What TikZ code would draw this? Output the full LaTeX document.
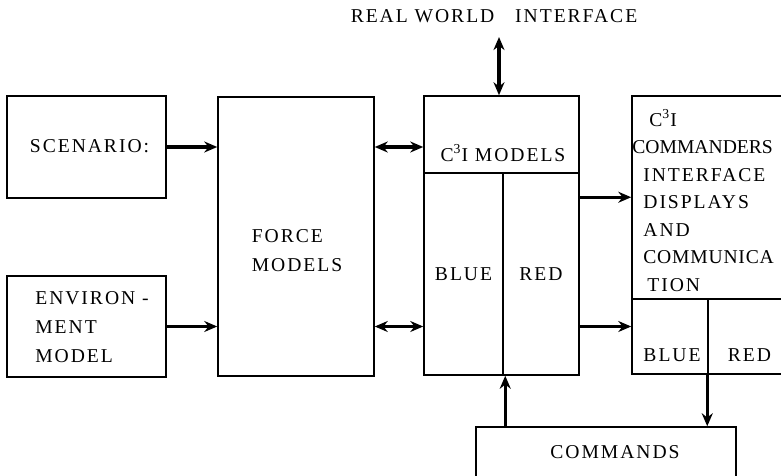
\documentclass[tikz,border=0pt]{standalone}
\usepackage{fontspec}
\setmainfont{Liberation Serif}[LetterSpace=10]
\newfontfamily\tightfont{Liberation Serif}
\usetikzlibrary{arrows.meta,positioning,calc}

\begin{document}
\begin{tikzpicture}[x=0.5pt,y=-0.5pt,
  box/.style={draw,line width=0.75pt,inner sep=0pt,align=left,
              font=\fontsize{9.8}{14.5}\selectfont},
  txt/.style={inner sep=0pt,align=left,font=\fontsize{9.8}{14.5}\selectfont},
  arr/.style={-{Stealth[length=6.5pt,width=5.5pt]},line width=1.6pt},
  darr/.style={{Stealth[length=6.5pt,width=5.5pt]}-{Stealth[length=6.5pt,width=5.5pt]},line width=1.6pt}]
  \useasboundingbox (0,0) rectangle (781,476);
  \clip (0,0) rectangle (781,476);
  % left column
  \node[box,minimum width=79.5pt,minimum height=51pt] (scen) at (86.5,147) {};
  \node[txt] (scentxt) at (89.5,146) {SCENARIO:};
  \node[box,minimum width=79.5pt,minimum height=50.5pt] (env) at (86.5,326.5) {};
  \node[txt] (envtxt) at (92,327.5) {ENVIRON -\\MENT\\MODEL};
  \node[box,minimum width=78pt,minimum height=139.5pt] (force) at (296,236.5) {};
  \node[txt] (forcetxt) at (297,251) {FORCE\\MODELS};
  % C3I models, split blue / red
  \node[box,minimum width=77.5pt,minimum height=38.5pt] (c3itop) at (501.5,134.5) {};
  \node[txt] (c3itxt) at (503,153) {C\textsuperscript{3}I MODELS};
  \node[box,minimum width=39.5pt,minimum height=101pt] (c3iblue) at (463.5,274) {BLUE};
  \node[box,minimum width=38pt,minimum height=101pt] (c3ired) at (541,274) {RED};
  \node[txt] (rwi) at (494,16) {REAL WORLD\hspace{7pt} INTERFACE};
  % commanders interface, runs off the right edge
  \node[box,minimum width=84pt,minimum height=101.5pt] (cmdr) at (716,197.5) {};
  \node[txt,font=\fontsize{9.8}{13.75}\selectfont,anchor=west] (cmdrtxt) at (643,200.5)
       {\hspace*{3pt}C\textsuperscript{3}I\\\hspace*{-5.5pt}{\tightfont COMMANDERS}\\INTERFACE\\
        DISPLAYS\\AND\\{\addfontfeatures{LetterSpace=4}COMMUNICA}\\\hspace*{2pt}TION};
  \node[box,minimum width=38pt,minimum height=37.5pt] (cblue) at (670,336.5) {};
  \node[box,minimum width=46pt,minimum height=37.5pt] (cred) at (754,336.5) {};
  \node[txt] (cbluetxt) at (672,355) {BLUE};
  \node[txt] (credtxt) at (749.5,355) {RED};
  \node[box,minimum width=130pt,minimum height=36pt] (cmds) at (606,463) {};
  \node[txt] (cmdstxt) at (615,452) {COMMANDS};
  % connectors
  \draw[arr] (scen) -- (force.west |- scen);
  \draw[arr] (env) -- (force.west |- env);
  \draw[darr] (force.east |- scen) -- (c3itop.west |- scen);
  \draw[darr] (force.east |- env) -- (c3iblue.west |- env);
  \draw[darr,shorten <=7pt] ([xshift=2.5pt]rwi.south) -- ([xshift=2.5pt]rwi.south |- c3itop.north);
  \draw[arr] ([yshift=-12.5pt]c3ired.north east) -- ([yshift=-12.5pt]c3ired.north east -| cmdr.west);
  \draw[arr] (c3ired.east |- env) -- (cblue.west |- env);
  \draw[arr] ([xshift=15pt]cmds.north west) -- ([xshift=15pt]cmds.north west |- c3ired.south);
  \draw[arr] (cred.south west) -- (cred.south west |- cmds.north);
\end{tikzpicture}
\end{document}
